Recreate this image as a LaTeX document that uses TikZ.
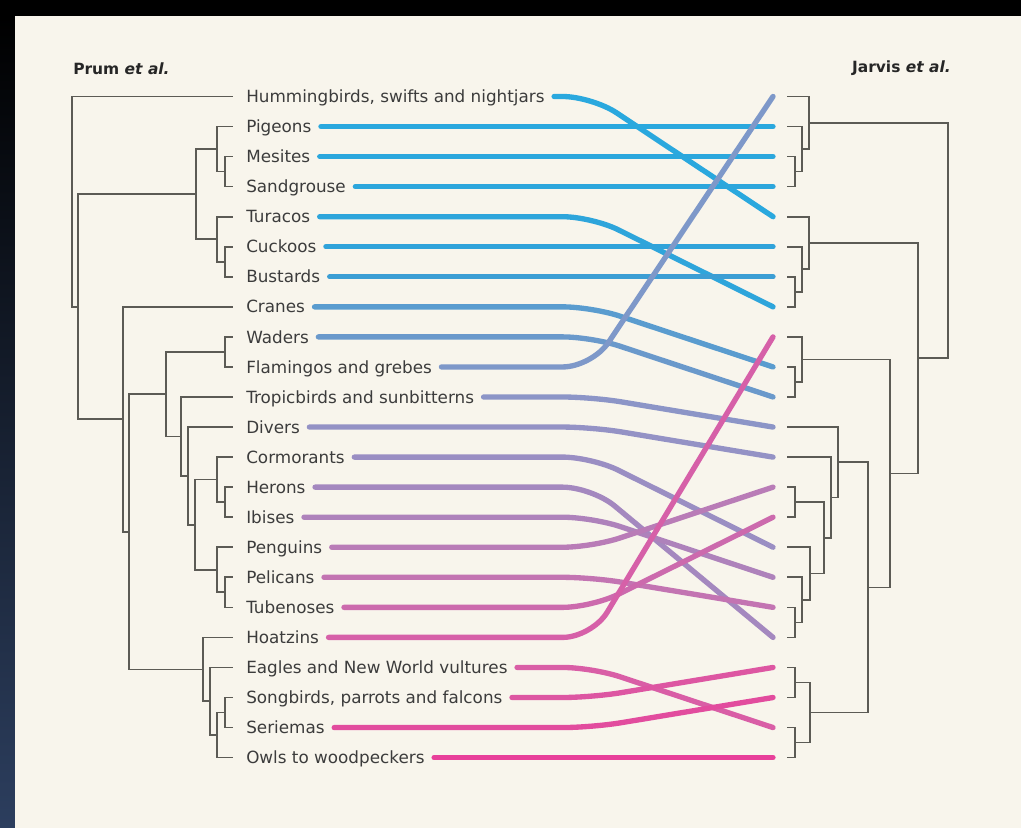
\documentclass[tikz,border=0pt]{standalone}
\usepackage{fontspec}
\setmainfont{DejaVu Sans}
\definecolor{bgc}{HTML}{F8F5EC}
\definecolor{navy}{HTML}{2C3E5E}
\definecolor{treec}{HTML}{5C5B55}
\definecolor{labc}{HTML}{3C3C3C}
\definecolor{c0}{HTML}{2AA8DE}
\definecolor{c1}{HTML}{2AA8DE}
\definecolor{c2}{HTML}{2BA7DD}
\definecolor{c3}{HTML}{2CA6DC}
\definecolor{c4}{HTML}{2EA5DB}
\definecolor{c5}{HTML}{30A3DA}
\definecolor{c6}{HTML}{3C9ED4}
\definecolor{c7}{HTML}{5A9CCF}
\definecolor{c8}{HTML}{6A99CB}
\definecolor{c9}{HTML}{7E98C9}
\definecolor{c10}{HTML}{8C95C7}
\definecolor{c11}{HTML}{9492C5}
\definecolor{c12}{HTML}{9A8EC3}
\definecolor{c13}{HTML}{A488BF}
\definecolor{c14}{HTML}{AE82BB}
\definecolor{c15}{HTML}{B97CB7}
\definecolor{c16}{HTML}{C374B2}
\definecolor{c17}{HTML}{CC6AAD}
\definecolor{c18}{HTML}{D660A8}
\definecolor{c19}{HTML}{D95EA6}
\definecolor{c20}{HTML}{DD56A2}
\definecolor{c21}{HTML}{E24C9E}
\definecolor{c22}{HTML}{E8409A}
\begin{document}
\begin{tikzpicture}[x=0.75pt,y=-0.75pt,
  tree/.style={draw=treec,line width=1.25pt},
  lab/.style={anchor=west,inner sep=0pt,text=labc,text height=9.19pt,text depth=0pt,font=\fontsize{12.6}{14}\selectfont},
  ttl/.style={inner sep=0pt,text=black!85,font=\bfseries\fontsize{11.6}{13}\selectfont},
  link/.style={line width=4pt,line cap=round,rounded corners=22pt}]
\useasboundingbox (0,0) rectangle (1021,828);
\fill[black] (0,0) rectangle (1021,828);
\shade[top color=black,middle color=black!80!navy,bottom color=navy] (0,16) rectangle (15,828);
\fill[bgc] (15,16) rectangle (1021,828);

% titles
\node[ttl,anchor=west] (tl) at (73,69) {Prum \textit{et al.}};
\node[ttl,anchor=east] (tr) at (951,68) {Jarvis \textit{et al.}};

% row coordinates
\foreach \i in {0,...,22}{
  \coordinate (l\i) at (233,{96.5+30.05*\i});
  \coordinate (r\i) at (787,{96.5+30.05*\i});
  \coordinate (e\i) at (773,{96.5+30.05*\i});
}
\coordinate (bx) at (592,0);

% left tree junctions
\coordinate (P) at (72,201.6);
\coordinate (A) at (78,306.73);
\coordinate (B) at (196,194.16);
\coordinate (B1) at (217,149.09);
\coordinate (B1a) at (225,171.625);
\coordinate (B2) at (217,239.24);
\coordinate (B2a) at (225,261.775);
\coordinate (C) at (123,419.3);
\coordinate (D) at (129,531.76);
\coordinate (E) at (166,394.18);
\coordinate (E1) at (225,351.925);
\coordinate (G) at (181,436.44);
\coordinate (H) at (188,475.88);
\coordinate (I) at (195,524.71);
\coordinate (I1) at (217,479.64);
\coordinate (I1a) at (225,502.175);
\coordinate (I2) at (217,569.79);
\coordinate (I2a) at (225,592.325);
\coordinate (F) at (203,669.33);
\coordinate (J) at (210,701.26);
\coordinate (K) at (217,735.06);
\coordinate (K1) at (225,712.525);
\foreach \p/\c in {P/l0,P/A,A/B,A/C,B/B1,B/B2,B1/l1,B1/B1a,B1a/l2,B1a/l3,
  B2/l4,B2/B2a,B2a/l5,B2a/l6,C/l7,C/D,D/E,D/F,E/E1,E/G,E1/l8,E1/l9,
  G/l10,G/H,H/l11,H/I,I/I1,I/I2,I1/l12,I1/I1a,I1a/l13,I1a/l14,
  I2/l15,I2/I2a,I2a/l16,I2a/l17,F/l18,F/J,J/l19,J/K,K/K1,K/l22,K1/l20,K1/l21}
  \draw[tree] (\p) |- (\c);

% right tree junctions
\coordinate (R1a) at (795,171.625);
\coordinate (R1b) at (802,149.09);
\coordinate (R1) at (809,122.8);
\coordinate (R2a) at (795,291.825);
\coordinate (R2b) at (802,269.29);
\coordinate (R2) at (809,243.0);
\coordinate (R3a) at (795,381.975);
\coordinate (R3) at (802,359.44);
\coordinate (R4a) at (795,502.175);
\coordinate (R4b) at (795,622.375);
\coordinate (R4c) at (802,599.84);
\coordinate (R4d) at (810,573.54);
\coordinate (R4e) at (824,537.86);
\coordinate (R4f) at (831,497.48);
\coordinate (R4) at (838,462.27);
\coordinate (R5a) at (795,682.475);
\coordinate (R5b) at (795,742.575);
\coordinate (R5) at (810,712.525);
\coordinate (R45) at (868,587.4);
\coordinate (R345) at (890,473.42);
\coordinate (R2345) at (918,358.21);
\coordinate (RR) at (948,240.5);
\foreach \p/\c in {R1a/r2,R1a/r3,R1b/r1,R1b/R1a,R1/r0,R1/R1b,
  R2a/r6,R2a/r7,R2b/r5,R2b/R2a,R2/r4,R2/R2b,R3a/r9,R3a/r10,R3/r8,R3/R3a,
  R4a/r13,R4a/r14,R4b/r17,R4b/r18,R4c/r16,R4c/R4b,R4d/r15,R4d/R4c,
  R4e/R4a,R4e/R4d,R4f/r12,R4f/R4e,R4/r11,R4/R4f,
  R5a/r19,R5a/r20,R5b/r21,R5b/r22,R5/R5a,R5/R5b,
  R45/R4,R45/R5,R345/R3,R345/R45,R2345/R2,R2345/R345,RR/R1,RR/R2345}
  \draw[tree] (\p) |- (\c);

% labels
\foreach \i/\t in {0/{Hummingbirds, swifts and nightjars},1/Pigeons,2/Mesites,3/Sandgrouse,
  4/Turacos,5/Cuckoos,6/Bustards,7/Cranes,8/Waders,9/Flamingos and grebes,
  10/Tropicbirds and sunbitterns,11/Divers,12/Cormorants,13/Herons,14/Ibises,
  15/Penguins,16/Pelicans,17/Tubenoses,18/Hoatzins,19/Eagles and New World vultures,
  20/{Songbirds, parrots and falcons},21/Seriemas,22/Owls to woodpeckers}
  \node[lab] (n\i) at (246,{96.5+30.05*\i}) {\t};

% links
\foreach \i/\k in {0/4,1/1,2/2,3/3,4/7,5/5,6/6,7/9,8/10,9/0,10/11,11/12,
  12/15,13/18,14/16,15/13,16/17,17/14,18/8,19/21,20/19,21/20,22/22}
  \draw[link,draw=c\i] ([xshift=7pt]n\i.east) -- (n\i.east -| bx) -- (e\k);
\end{tikzpicture}
\end{document}
